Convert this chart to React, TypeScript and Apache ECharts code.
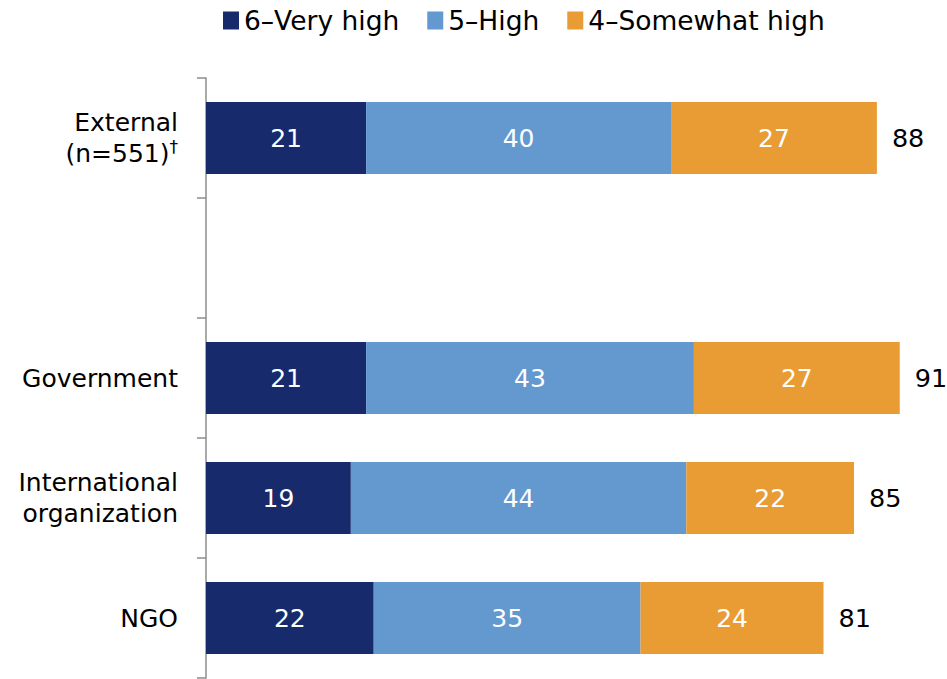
import React, { useEffect, useRef } from "react";
import * as echarts from "echarts";

const categories = ["External\n(n=551)†", "", "Government", "International\norganization", "NGO"];
const seriesNames = ["6–Very high", "5–High", "4–Somewhat high"];
const veryHigh = [21, null, 21, 19, 22];
const high = [40, null, 43, 44, 35];
const somewhatHigh = [27, null, 27, 22, 24];
const totals = [88, null, 91, 85, 81];
const colors = ["#172a6c", "#6399cf", "#e99c34"];

const FONT = "DejaVu Sans";

export default function App() {
  const ref = useRef<HTMLDivElement>(null);
  useEffect(() => {
    if (!ref.current) return;
    const chart = echarts.init(ref.current, undefined, { renderer: "svg" });
    const values = [veryHigh, high, somewhatHigh];
    const barSeries = values.map((arr, i) => ({
      name: seriesNames[i],
      type: "bar",
      stack: "total",
      barWidth: 72,
      itemStyle: { color: colors[i] },
      label: {
        show: true,
        position: "inside",
        color: "#ffffff",
        fontSize: 25,
        fontFamily: FONT,
      },
      data: arr.map((v) => (v === null ? "-" : v)),
    }));
    const totalSeries = {
      name: "Total",
      type: "scatter",
      symbolSize: 0,
      silent: true,
      itemStyle: { opacity: 1, color: "#000" },
      data: totals.map((t, i) => (t === null ? null : [t, i])).filter((d) => d !== null),
      label: {
        show: true,
        position: "right",
        distance: 15,
        color: "#000000",
        opacity: 1,
        fontSize: 25.5,
        fontFamily: FONT,
        formatter: (p: any) => String(p.value[0]),
      },
    };
    chart.setOption({
      animation: false,
      textStyle: { fontFamily: FONT },
      legend: {
        data: seriesNames,
        top: 2,
        left: 218,
        itemWidth: 16,
        itemHeight: 18,
        itemGap: 28,
        icon: "rect",
        textStyle: { fontSize: 26.5, color: "#000", fontFamily: FONT },
      },
      grid: { left: 206, right: 1.5, top: 78, bottom: 1, containLabel: false },
      xAxis: {
        type: "value",
        min: 0,
        max: 97,
        show: false,
      },
      yAxis: {
        type: "category",
        inverse: true,
        data: categories,
        axisLine: { show: true, lineStyle: { color: "#8c8c8c", width: 1.5 } },
        axisTick: { show: true, length: 9, lineStyle: { color: "#8c8c8c", width: 1.5 } },
        axisLabel: {
          margin: 28,
          fontSize: 25,
          color: "#000",
          fontFamily: FONT,
          lineHeight: 31,
          align: "right",
          formatter: (v: string) => v.replace("†", "{s|†}"),
          rich: {
            s: { fontSize: 17, fontFamily: FONT, color: "#000", verticalAlign: "top", lineHeight: 31 },
          },
        },
      },
      series: [...barSeries, totalSeries],
    });
    return () => chart.dispose();
  }, []);
  return (
    <div
      ref={ref}
      style={{ position: "absolute", left: 0, top: 0, width: 947, height: 679, background: "#fff" }}
    />
  );
}
